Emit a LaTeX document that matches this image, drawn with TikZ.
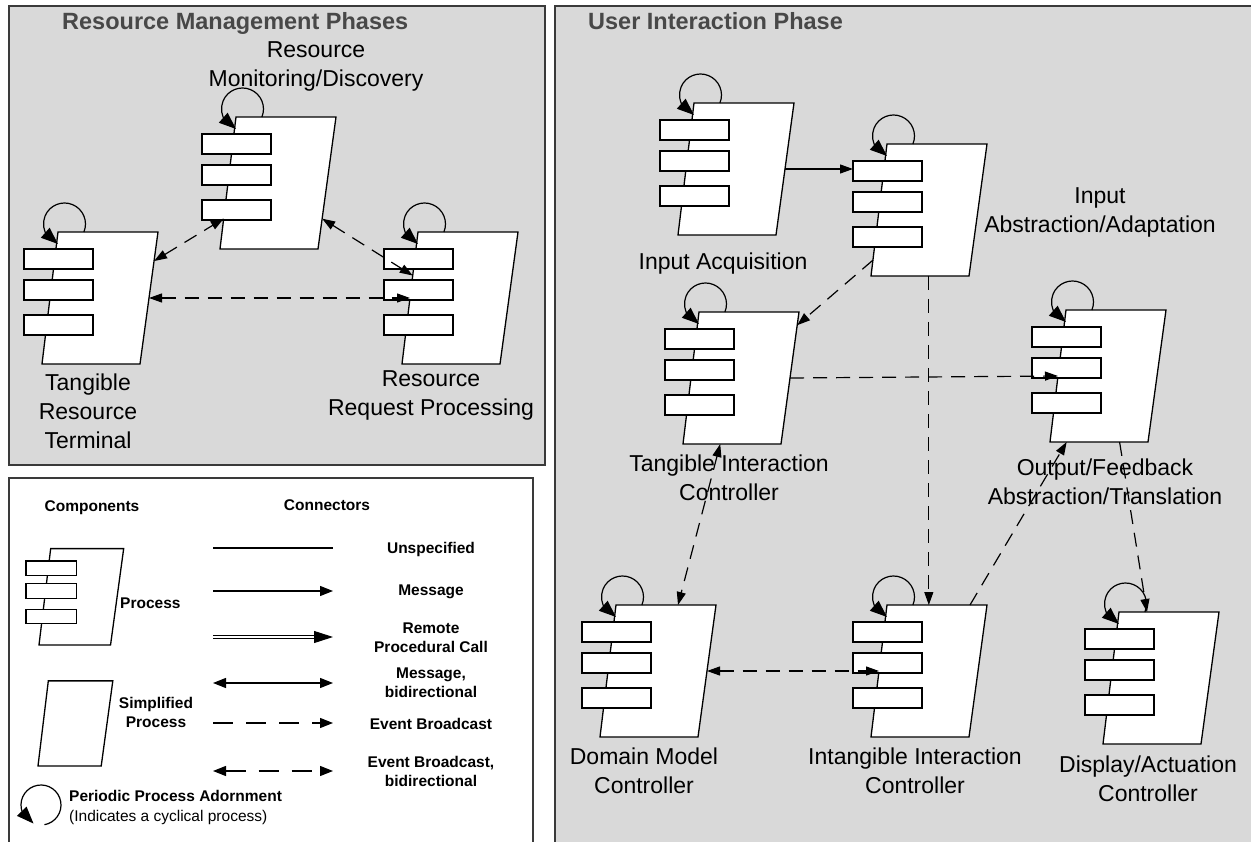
\documentclass[tikz,border=0pt]{standalone}
\usepackage{fontspec}
\setmainfont{Liberation Sans}
\usetikzlibrary{arrows.meta,bending,calc}

\definecolor{fondo}{RGB}{217,217,217}
\definecolor{borde}{RGB}{58,58,58}
\definecolor{gristitulo}{RGB}{72,72,72}

\tikzset{
  caja/.style={draw=black, fill=white, line width=1.3pt},
  panel/.style={draw=borde, line width=1.8pt},
  bucle/.style={line width=1.2pt, -{Triangle[length=17pt,width=13pt]}},
  guion/.style={dash pattern=on 14pt off 9pt},
  unesp/.style={line width=1.2pt},
  msg/.style={line width=1.2pt, ->},
  msgbi/.style={line width=1.2pt, <->},
  evt/.style={msg, guion},
  evtbi/.style={msgbi, guion},
  rpc/.style={double, double distance=2.4pt, line width=1pt, shorten >=15pt},
  punta/.style={line width=1pt, -{Triangle[length=19pt,width=12pt]}},
  etiqueta/.style={font=\fontsize{23}{29}\selectfont, align=center, inner sep=0pt},
  titulo/.style={font=\fontsize{23.5}{28}\selectfont\bfseries, text=gristitulo, anchor=west, inner sep=0pt},
  leyenda/.style={font=\fontsize{15.5}{19}\selectfont\bfseries, align=center, inner sep=0pt},
  nota/.style={font=\fontsize{15.5}{19}\selectfont, anchor=west, inner sep=0pt},
  % Proceso: paralelogramo con tres puertos a la izquierda.
  proceso/.pic={
    \draw[caja] (0,0) -- (98,0) -- (116,-132) -- (16,-132) -- cycle;
    \foreach \y in {-115,-84,-49}
      \draw[caja] (-18,\y) rectangle (51,\y+20);
    \coordinate (-bl) at (0,0);
    \coordinate (-br) at (98,0);
    \coordinate (-tr) at (116,-132);
    \coordinate (-tl) at (16,-132);
    \coordinate (-e) at (107,-66);
    \coordinate (-w) at (8,-66);
    \coordinate (-p1) at (-18,-105);
  },
  % Proceso simplificado: solo el paralelogramo.
  simple/.pic={
    \draw[caja] (0,0) -- (98,0) -- (116,-132) -- (16,-132) -- cycle;
  },
  % Adorno de proceso periodico.
  ciclo/.pic={
    \draw[bucle] (41.9,-132) arc[start angle=22.4, end angle=-252, radius=21];
  }
}

\begin{document}
\begin{tikzpicture}[x=1pt, y=-1pt, >={Triangle[length=13pt,width=9pt]}]
    % Marco de la figura y paneles de fondo.
    \useasboundingbox (0,0) rectangle (1251,842);
    \draw[panel, fill=fondo] (9,6) rectangle (545,465);
    \draw[panel, fill=white] (9,478) rectangle (533,870);
    \draw[panel, fill=fondo] (555,6) rectangle (1270,870);

    % Titulos de las fases.
    \node[titulo] (trm) at (62,23) {Resource Management Phases};
    \node[titulo] (tui) at (588,21) {User Interaction Phase};

    % Procesos, cada uno con su ciclo periodico.
    \foreach \nombre/\px/\py in {trt/42/364, rmd/220/249, rrp/402/364, ia/678/235, iaa/871/276,
        tic/683/444, ofa/1050/442, dmc/600/737, iic/871/737, dac/1103/744}{
      \pic (\nombre) at (\px,\py) {proceso};
      \pic at (\px,\py) {ciclo};
    }

    % Rotulos de los procesos.
    \node[etiqueta] (lrmd) at (316,66) {Resource\\Monitoring/Discovery};
    \node[etiqueta] (ltrt) at (88,411) {Tangible\\Resource\\Terminal};
    \node[etiqueta] (lrrp) at (431,395) {Resource\\Request Processing};
    \node[etiqueta] (lia) at (723,264) {Input Acquisition};
    \node[etiqueta] (liaa) at (1100,212) {Input\\Abstraction/Adaptation};
    \node[etiqueta] (ltic) at (729,478) {Tangible Interaction\\Controller};
    \node[etiqueta] (lofa) at (1105,482) {Output/Feedback\\Abstraction/Translation};
    \node[etiqueta] (ldmc) at (644,771) {Domain Model\\Controller};
    \node[etiqueta] (liic) at (915,771) {Intangible Interaction\\Controller};
    \node[etiqueta] (ldac) at (1148,779) {Display/Actuation\\Controller};

    % Conectores de la gestion de recursos.
    \draw[evtbi] ($(trt-br)!0.78!(trt-tr)$) -- ($(rmd-bl)!0.23!(rmd-tl)$);
    \draw[evtbi] ($(rmd-br)!0.23!(rmd-tr)$) -- ($(rrp-bl)!0.67!(rrp-tl)$);
    \draw[evtbi] (trt-e) -- (rrp-w);

    % Conectores de la interaccion con el usuario.
    \coordinate (baja) at ($(iaa-bl)!0.59!(iaa-br)$);
    \draw[msg] (ia-e) -- (ia-e -| iaa-p1);
    \draw[evt] ($(iaa-bl)!0.12!(iaa-tl)$) -- ($(tic-br)!0.9!(tic-tr)$);
    \draw[evt] (tic-e) -- (ofa-w);
    \draw[evt] (baja) -- (baja |- iic-tl);
    \draw[evtbi] ($(tic-bl)!0.38!(tic-br)$) -- ($(dmc-tl)!0.62!(dmc-tr)$);
    \draw[evt] ($(iic-tl)!0.83!(iic-tr)$) -- ($(ofa-bl)!0.17!(ofa-br)$);
    \draw[evt] ($(ofa-bl)!0.71!(ofa-br)$) -- ($(dac-tl)!0.28!(dac-tr)$);
    \draw[evtbi] (dmc-e) -- (iic-w);

    % Leyenda: componentes.
    \begin{scope}[>={Triangle[length=13pt,width=10pt]}, guion/.style={dash pattern=on 20pt off 13pt}]
      \node[leyenda] (lcomp) at (92,508) {Components};
      \node[leyenda] (lconn) at (327,505) {Connectors};
      \pic[scale=0.73] (leyproc) at (39,645) {proceso};
      \node[leyenda, anchor=west] (lproc) at (120,603) {Process};
      \pic[scale=0.645] (leysimple) at (38,766) {simple};
      \node[leyenda] (lsimple) at (156,712) {Simplified\\Process};
      \coordinate (leyciclo) at (41,805);
      \draw[bucle] ($(leyciclo)+(80:20)$) arc[start angle=80, end angle=-248, radius=20];
      \node[leyenda, anchor=west] (lperiod) at (69,796) {Periodic Process Adornment};
      \node[nota] (lindica) at (69,817) {(Indicates a cyclical process)};

      % Leyenda: conectores.
      \foreach \y/\estilo in {548/unesp, 591/msg, 683/msgbi, 723/evt, 771/evtbi}{
        \coordinate (ini\y) at (213,\y);
        \coordinate (fin\y) at (333,\y);
        \draw[\estilo] (ini\y) -- (fin\y);
      }
      \coordinate (ini637) at (213,637);
      \coordinate (fin637) at (333,637);
      \draw[rpc] (ini637) -- (fin637);
      \draw[punta] ($(fin637)+(-19,0)$) -- (fin637);
      \node[leyenda] (lunesp) at (431,549) {Unspecified};
      \node[leyenda] (lmsg) at (431,592) {Message};
      \node[leyenda] (lrpc) at (431,638) {Remote\\Procedural Call};
      \node[leyenda] (lmsgbi) at (431,683) {Message,\\bidirectional};
      \node[leyenda] (levt) at (431,724) {Event Broadcast};
      \node[leyenda] (levtbi) at (431,771) {Event Broadcast,\\bidirectional};
    \end{scope}
\end{tikzpicture}
\end{document}
